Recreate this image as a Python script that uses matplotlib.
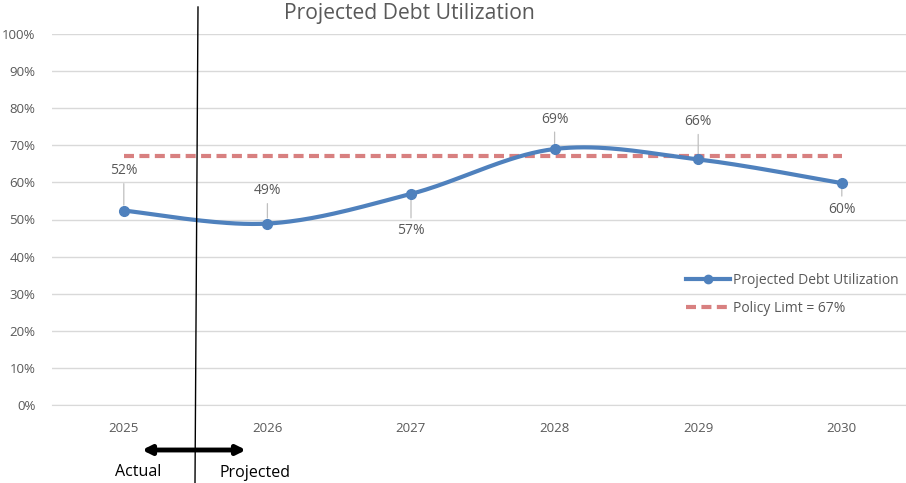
import matplotlib
matplotlib.use("Agg")
import matplotlib.pyplot as plt
import numpy as np
from matplotlib.ticker import PercentFormatter

# datos
years = ['2025', '2026', '2027', '2028', '2029', '2030']
utilization = [0.524, 0.489, 0.569, 0.690, 0.662, 0.598]
utilization_labels = ['52%', '49%', '57%', '69%', '66%', '60%']
policy_limit = [0.671] * 6
label_offsets = [(0, 40), (0, 33), (0, -37), (0, 30), (0, 38), (0, -26)]

plt.rcParams['font.family'] = ['Open Sans', 'DejaVu Sans']

GRAY = '#595959'
BLUE = '#4f81bd'
RED = '#d88080'


def smooth_curve(x, y, steps=40):
    """Curva suavizada tipo Excel (Catmull-Rom en Bezier) entre los puntos."""
    x = np.asarray(x, float)
    y = np.asarray(y, float)
    px = np.concatenate([[x[0]], x, [x[-1]]])
    py = np.concatenate([[y[0]], y, [y[-1]]])
    xs, ys = [], []
    t = np.linspace(0, 1, steps)
    for i in range(1, len(px) - 2):
        p0 = np.array([px[i], py[i]])
        p3 = np.array([px[i + 1], py[i + 1]])
        p1 = p0 + (np.array([px[i + 1], py[i + 1]]) - np.array([px[i - 1], py[i - 1]])) / 6
        p2 = p3 - (np.array([px[i + 2], py[i + 2]]) - np.array([px[i], py[i]])) / 6
        b = ((1 - t) ** 3)[:, None] * p0 + (3 * (1 - t) ** 2 * t)[:, None] * p1 \
            + (3 * (1 - t) * t ** 2)[:, None] * p2 + (t ** 3)[:, None] * p3
        xs.extend(b[:, 0])
        ys.extend(b[:, 1])
    return np.array(xs), np.array(ys)


W, H = 906, 483
fig = plt.figure(figsize=(W / 100, H / 100), dpi=100)
left, right, top, bottom = 52, 913.6, 34, 405
ax = fig.add_axes([left / W, 1 - bottom / H, (right - left) / W, (bottom - top) / H])

x = np.arange(len(years))
sx, sy = smooth_curve(x, utilization)

ax.plot(x, policy_limit, color=RED, lw=3, ls=(0, (2.4, 1.3)), label='Policy Limt = 67%', zorder=2)
ax.plot(sx, sy, color=BLUE, lw=3, zorder=3)
ax.plot(x, utilization, 'o', color=BLUE, ms=7, zorder=4)
ax.plot([], [], color=BLUE, lw=3, marker='o', ms=6, label='Projected Debt Utilization')

for xi, yi, lab, off in zip(x, utilization, utilization_labels, label_offsets):
    ax.annotate(lab, (xi, yi), xytext=off, textcoords='offset pixels',
                ha='center', va='center', fontsize=10, color=GRAY,
                arrowprops=dict(arrowstyle='-', color='#bfbfbf', lw=0.9,
                                shrinkA=2, shrinkB=4), zorder=1)

ax.set_xlim(-0.5, len(years) - 0.5)
ax.set_ylim(0, 1)
ax.set_yticks(np.arange(0, 1.01, 0.1))
ax.yaxis.set_major_formatter(PercentFormatter(1.0, decimals=0))
ax.set_xticks(x)
ax.set_xticklabels(years)
ax.tick_params(axis='both', length=0, colors=GRAY, labelsize=9.5)
ax.tick_params(axis='x', pad=12)
ax.tick_params(axis='y', pad=12)
ax.grid(axis='y', color='#d9d9d9', lw=1)
ax.set_axisbelow(True)
for s in ax.spines.values():
    s.set_visible(False)
ax.spines['bottom'].set_visible(True)
ax.spines['bottom'].set_color('#d9d9d9')

handles, labels = ax.get_legend_handles_labels()
leg = fig.legend(handles[::-1], labels[::-1], loc='upper left', bbox_to_anchor=(673 / W, 1 - 260 / H),
                 frameon=False, fontsize=10, labelspacing=0.95, handlelength=3.2,
                 handletextpad=0.2, labelcolor=GRAY)

fig.text(409 / W, 1 - 14 / H, 'Projected Debt Utilization', ha='center', va='center',
         fontsize=15.2, color=GRAY)

# linea vertical entre real y proyectado
fig.add_artist(plt.Line2D([198 / W, 195 / W], [1 - 7 / H, 0], color='black', lw=1))
ax.annotate('', xy=(142 / W, 1 - 450 / H), xytext=(246 / W, 1 - 450 / H),
            xycoords='figure fraction', textcoords='figure fraction',
            arrowprops=dict(arrowstyle='<|-|>', color='black', lw=3.5, mutation_scale=13,
                            shrinkA=0, shrinkB=0))
fig.text(138 / W, 1 - 472 / H, 'Actual', ha='center', va='center', fontsize=11.5, color='black')
fig.text(255 / W, 1 - 473 / H, 'Projected', ha='center', va='center', fontsize=11.5, color='black')

fig.savefig('out.png', dpi=100)
